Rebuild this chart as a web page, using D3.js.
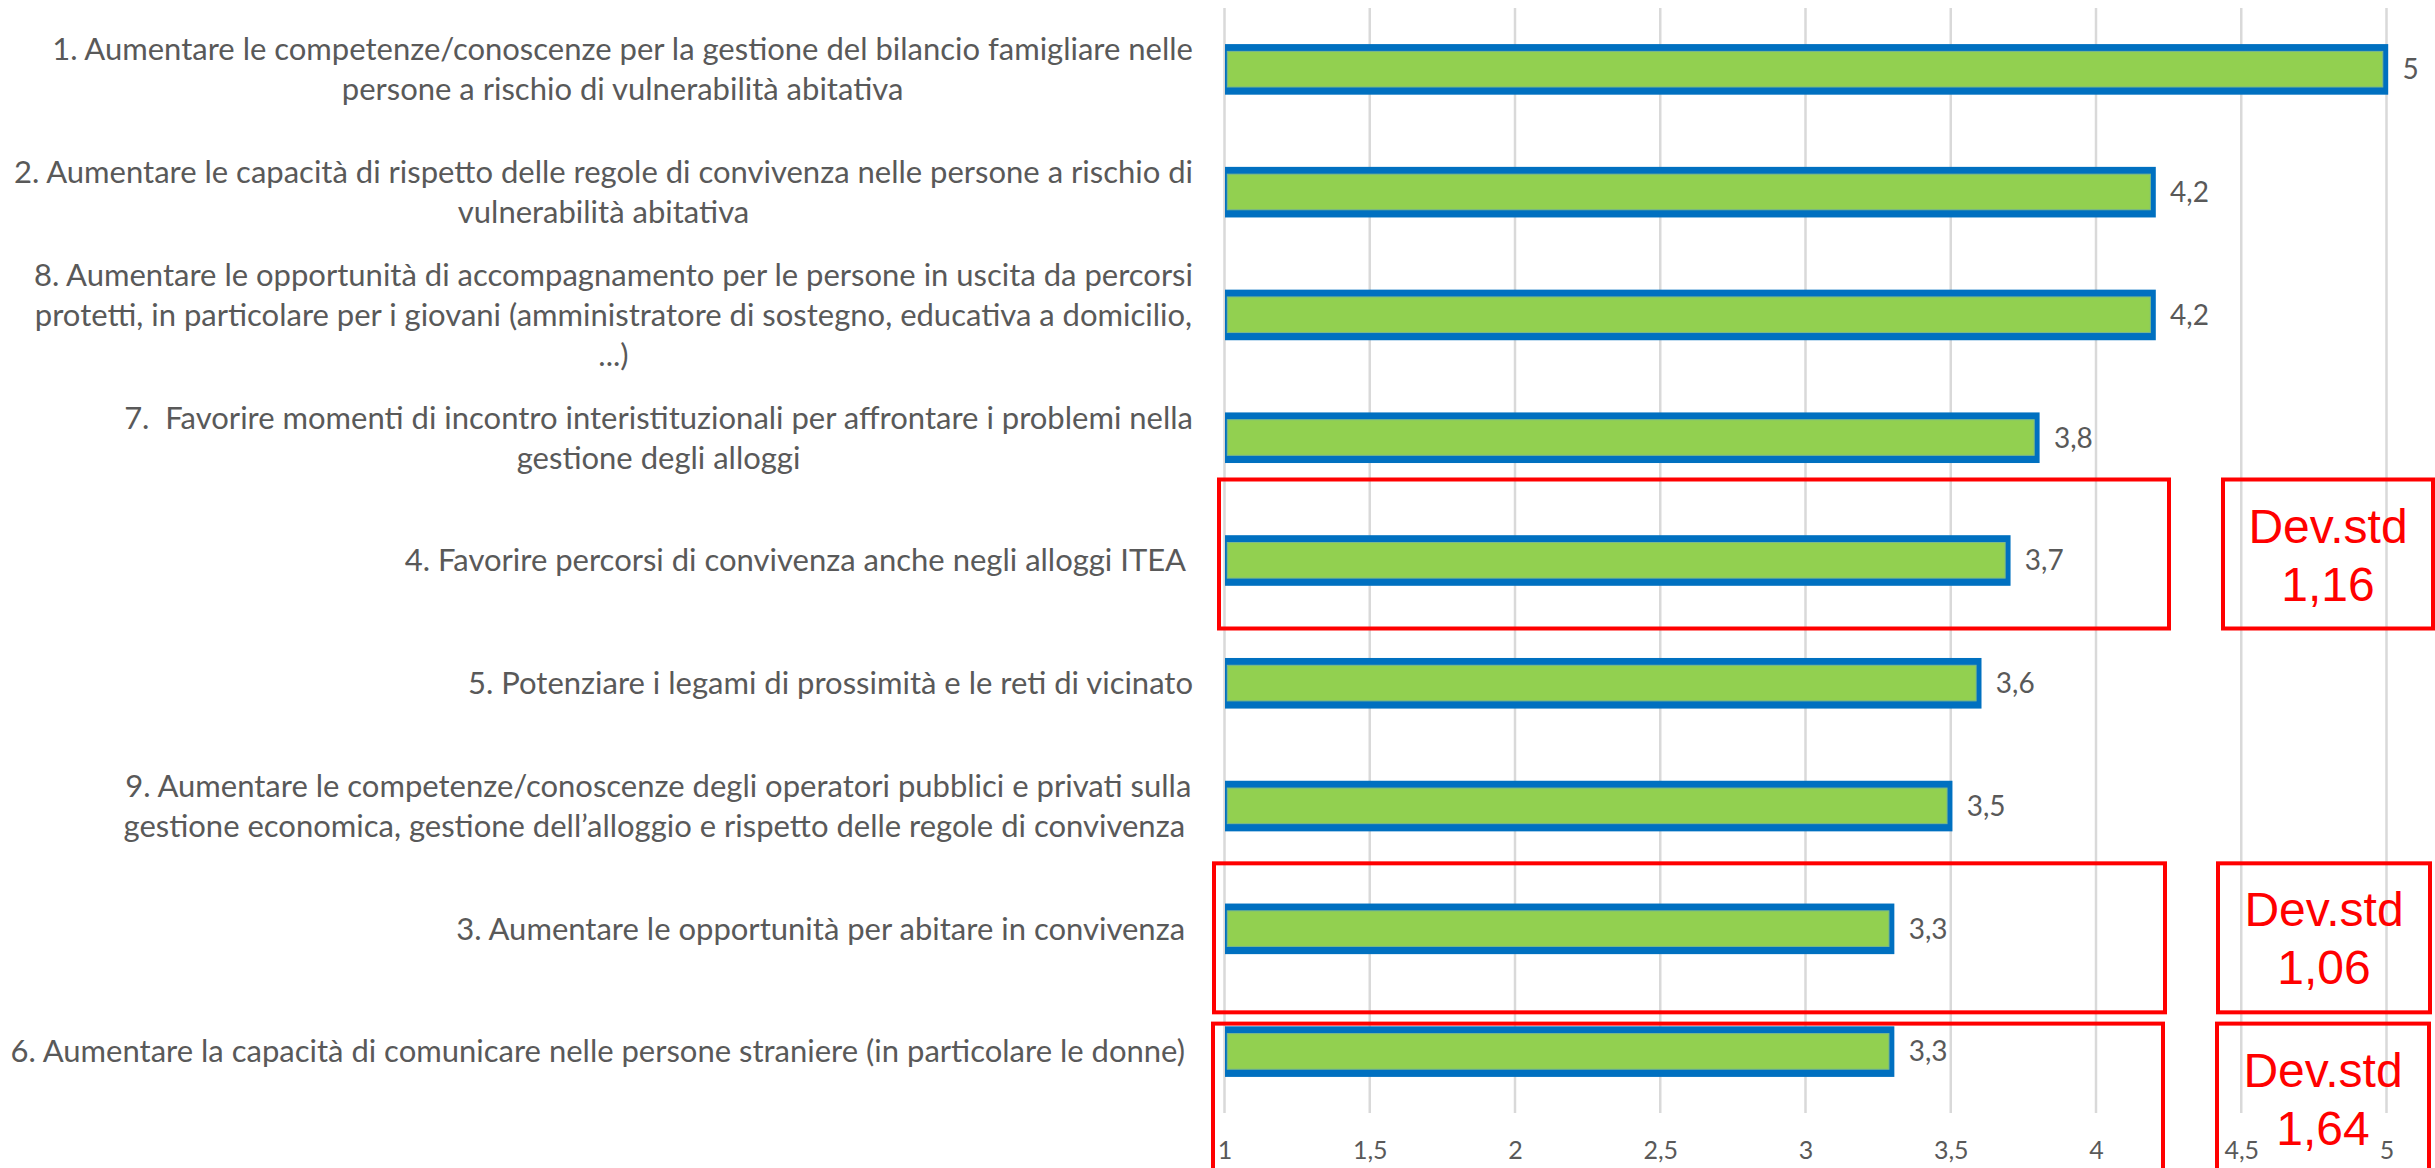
<!DOCTYPE html>
<html>
<head>
<meta charset="utf-8">
<script src="https://cdn.jsdelivr.net/npm/d3@7/dist/d3.min.js"></script>
<style>
  html, body { margin: 0; padding: 0; background: #ffffff; }
  svg { display: block; }
  text { white-space: pre; }
</style>
</head>
<body>
<svg id="chart" width="2435" height="1168"></svg>
<script>
// ---- data ----
const categories = [
  "1. Aumentare le competenze/conoscenze per la gestione del bilancio famigliare nelle\npersone a rischio di vulnerabilità abitativa",
  "2. Aumentare le capacità di rispetto delle regole di convivenza nelle persone a rischio di\nvulnerabilità abitativa",
  "8. Aumentare le opportunità di accompagnamento per le persone in uscita da percorsi\nprotetti, in particolare per i giovani (amministratore di sostegno, educativa a domicilio,\n...)",
  "7.  Favorire momenti di incontro interistituzionali per affrontare i problemi nella\ngestione degli alloggi",
  "4. Favorire percorsi di convivenza anche negli alloggi ITEA ",
  "5. Potenziare i legami di prossimità e le reti di vicinato",
  "9. Aumentare le competenze/conoscenze degli operatori pubblici e privati sulla\ngestione economica, gestione dell’alloggio e rispetto delle regole di convivenza ",
  "3. Aumentare le opportunità per abitare in convivenza ",
  "6. Aumentare la capacità di comunicare nelle persone straniere (in particolare le donne) "
];
const values = [5, 4.2, 4.2, 3.8, 3.7, 3.6, 3.5, 3.3, 3.3];
const tickValues = [1, 1.5, 2, 2.5, 3, 3.5, 4, 4.5, 5];
const xDomain = [1, 5];
// annotations: which category is boxed and its standard deviation text
const annotatedIndex = [4, 7, 8];
const devLabel = ["Dev.std", "Dev.std", "Dev.std"];
const devValue = ["1,16", "1,06", "1,64"];

// ---- layout ----
const W = 2435, H = 1168;
const svg = d3.select("#chart");
const locale = d3.formatLocale({decimal: ",", thousands: ".", grouping: [3], currency: ["€", ""]});
const fmt = locale.format("~g");

const x = d3.scaleLinear().domain(xDomain).range([1224.5, 2386.5]);
const y = d3.scaleBand().domain(d3.range(categories.length)).range([8, 1113]).padding(0);
const yc = i => y(i) + y.bandwidth() / 2;

// gridlines
svg.append("g").selectAll("line").data(tickValues).join("line")
  .attr("x1", d => x(d)).attr("x2", d => x(d))
  .attr("y1", 8).attr("y2", 1113)
  .attr("stroke", "#D9D9D9").attr("stroke-width", 2.5);

// x axis tick labels
const xAxis = d3.axisBottom(x).tickValues(tickValues).tickFormat(d => fmt(d)).tickSize(0).tickPadding(0);
const gx = svg.append("g").attr("transform", "translate(0,1150)").call(xAxis);
gx.select(".domain").remove();
gx.selectAll("text")
  .attr("dy", "0.35em").attr("y", 0)
  .attr("fill", "#595959")
  .style("font-family", "Lato, 'Open Sans', sans-serif")
  .style("font-size", "25px");

// bars
const bars = svg.append("g");
bars.selectAll("rect.outer").data(values).join("rect")
  .attr("class", "outer")
  .attr("x", x(1) + 0.5)
  .attr("y", (d, i) => yc(i) - 25.3)
  .attr("width", d => x(d) - x(1) + 1.2)
  .attr("height", 50.6)
  .attr("fill", "#0070C0");
bars.selectAll("rect.inner").data(values).join("rect")
  .attr("class", "inner")
  .attr("x", x(1) + 2.8)
  .attr("y", (d, i) => yc(i) - 18)
  .attr("width", d => x(d) - x(1) - 6.5)
  .attr("height", 35.6)
  .attr("fill", "#92D050")
  .attr("stroke", "#7DB98A").attr("stroke-width", 1);

// data labels
svg.append("g").selectAll("text").data(values).join("text")
  .attr("x", d => x(d) + 16)
  .attr("y", (d, i) => yc(i))
  .attr("dy", "0.35em")
  .attr("fill", "#595959")
  .style("font-family", "Lato, 'Open Sans', sans-serif")
  .style("font-size", "28px")
  .text(d => fmt(d));

// category labels
const labelRight = 1193;
const lineH = 40;
const gl = svg.append("g")
  .style("font-family", "Lato, 'Open Sans', sans-serif")
  .style("font-size", "31px")
  .attr("fill", "#595959");
categories.forEach((c, i) => {
  const lines = c.split("\n");
  const g = gl.append("g");
  const ts = lines.map((l, k) => g.append("text")
    .attr("y", yc(i) + (k - (lines.length - 1) / 2) * lineH)
    .attr("dy", "0.35em")
    .attr("text-anchor", "middle")
    .text(l));
  const maxW = d3.max(ts, t => t.node().getComputedTextLength());
  ts.forEach(t => t.attr("x", labelRight - maxW / 2));
});

// annotation boxes (hand-drawn style offsets)
const boxLayout = [
  {l: 1219, r: 2169, dt: -81,  dl: 2223, dr: 2433},
  {l: 1214, r: 2165, dt: -65.5, dl: 2218, dr: 2430},
  {l: 1213, r: 2163, dt: -28,  dl: 2217, dr: 2429}
];
const ga = svg.append("g");
annotatedIndex.forEach((ci, k) => {
  const b = boxLayout[k];
  const top = yc(ci) + b.dt;
  const h = 149;
  ga.append("rect").attr("x", b.l).attr("y", top).attr("width", b.r - b.l).attr("height", h)
    .attr("fill", "none").attr("stroke", "#FF0000").attr("stroke-width", 4);
  ga.append("rect").attr("x", b.dl).attr("y", top).attr("width", b.dr - b.dl).attr("height", h)
    .attr("fill", "none").attr("stroke", "#FF0000").attr("stroke-width", 4);
  const cx = (b.dl + b.dr) / 2;
  ga.append("text").attr("x", cx).attr("y", top + 63).attr("text-anchor", "middle")
    .attr("fill", "#FF0000").style("font-family", "'Liberation Sans', Arial, sans-serif")
    .style("font-size", "48px").text(devLabel[k]);
  ga.append("text").attr("x", cx).attr("y", top + 121).attr("text-anchor", "middle")
    .attr("fill", "#FF0000").style("font-family", "'Liberation Sans', Arial, sans-serif")
    .style("font-size", "48px").text(devValue[k]);
});
</script>
</body>
</html>
